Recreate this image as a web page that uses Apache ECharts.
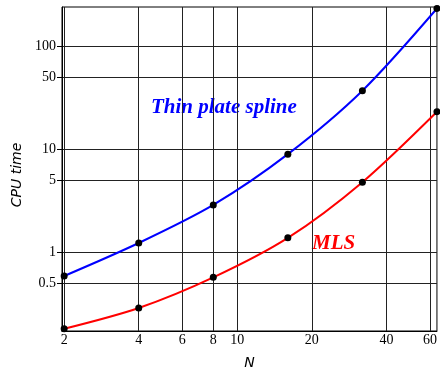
<!DOCTYPE html>
<html><head><meta charset="utf-8">
<script src="https://cdn.jsdelivr.net/npm/echarts@6/dist/echarts.min.js"></script>
<style>html,body{margin:0;padding:0;background:#fff}#c{width:440px;height:375px}</style>
</head><body><div id="c"></div>
<script>
const N = [2, 4, 8, 16, 32, 64];
const tps = [0.594, 1.24, 2.9, 9.0, 37.1, 232];
const mls = [0.183, 0.291, 0.576, 1.39, 4.82, 23.2];
const xTicks = [2, 4, 6, 8, 10, 20, 40, 60];
const yTicks = [0.5, 1, 5, 10, 50, 100];

const chart = echarts.init(document.getElementById('c'));
const serif = 'Liberation Serif';
chart.setOption({
  animation: false,
  grid: {left: 62, right: -3, top: 7, bottom: 40, show: true, borderColor: '#000', borderWidth: 1},
  xAxis: {
    type: 'log', logBase: 2, min: 1.96, max: 64,
    name: 'N', nameLocation: 'middle', nameGap: 25,
    nameTextStyle: {fontFamily: 'DejaVu Sans', fontStyle: 'italic', fontSize: 14, color: '#000'},
    axisLine: {show: true, lineStyle: {color: '#000'}},
    axisTick: {show: false, customValues: xTicks},
    axisLabel: {customValues: xTicks, fontFamily: serif, fontSize: 14, color: '#000', margin: 2},
    splitLine: {show: true, lineStyle: {color: '#222', width: 1}},
    minorSplitLine: {show: false}
  },
  yAxis: {
    type: 'log', logBase: 10, min: 0.174, max: 240,
    name: 'CPU time', nameLocation: 'middle', nameGap: 36,
    nameTextStyle: {fontFamily: 'DejaVu Sans', fontStyle: 'italic', fontSize: 14, color: '#000', padding: [0, 12, 0, 0]},
    axisLine: {show: true, lineStyle: {color: '#000'}},
    axisTick: {show: true, length: 5, customValues: yTicks, lineStyle: {color: '#000'}},
    axisLabel: {customValues: yTicks, fontFamily: serif, fontSize: 14, color: '#000', margin: 6},
    splitLine: {show: true, lineStyle: {color: '#222', width: 1}}
  },
  series: [
    {type: 'line', data: N.map((n, i) => [n, tps[i]]), smooth: 0.3,
     lineStyle: {color: '#0000ff', width: 2}, itemStyle: {color: '#000'},
     symbol: 'circle', symbolSize: 7, clip: true, z: 3},
    {type: 'line', data: N.map((n, i) => [n, mls[i]]), smooth: 0.3,
     lineStyle: {color: '#ff0000', width: 2}, itemStyle: {color: '#000'},
     symbol: 'circle', symbolSize: 7, clip: true, z: 3}
  ],
  graphic: [
    {type: 'text', left: 151, top: 97, style: {text: 'Thin plate spline', fill: '#0000ff',
      font: 'italic bold 21px "Liberation Serif"'}},
    {type: 'text', left: 312, top: 233, style: {text: 'MLS', fill: '#ff0000',
      font: 'italic bold 21px "Liberation Serif"'}}
  ]
});
</script></body></html>
